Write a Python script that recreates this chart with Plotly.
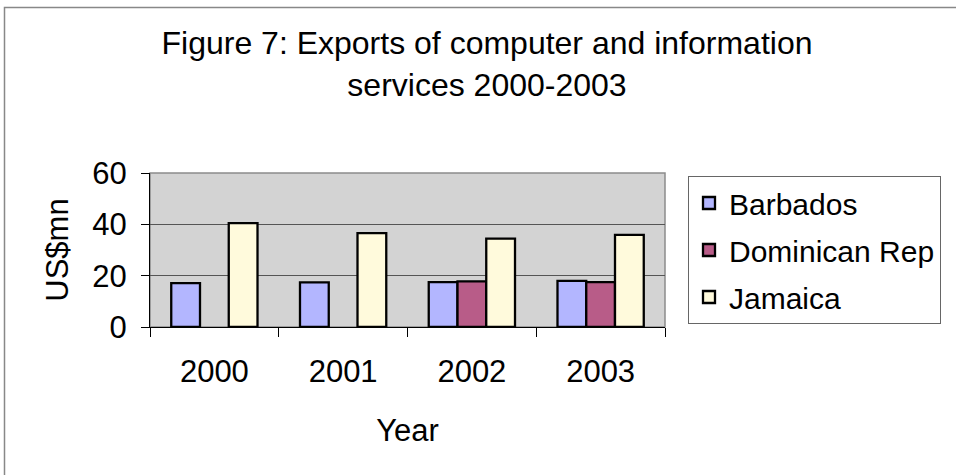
import plotly.graph_objects as go

years = ["2000", "2001", "2002", "2003"]
barbados = [17.1, 17.4, 17.5, 18.0]
dominican = [None, None, 17.8, 17.5]
jamaica = [40.5, 36.6, 34.4, 35.9]

series = [
    ("Barbados", barbados, "#b3b6ff"),
    ("Dominican Rep", dominican, "#b85c88"),
    ("Jamaica", jamaica, "#fffadc"),
]

FONT = "Liberation Sans, Arial, sans-serif"

fig = go.Figure()
for i, (name, vals, col) in enumerate(series):
    fig.add_trace(go.Bar(
        x=years, y=vals, name=name, legendgroup=str(i),
        marker=dict(color=col, line=dict(color="black", width=2.3)),
    ))

L, R, T, B = 150, 291, 173, 148
W, H = 956, 475
pw, ph = W - L - R, H - T - B

fig.update_layout(
    width=W, height=H,
    margin=dict(l=L, r=R, t=T, b=B),
    paper_bgcolor="white",
    plot_bgcolor="#d3d3d3",
    font=dict(family=FONT, size=30, color="black"),
    barmode="group",
    bargap=0.33,
    bargroupgap=0,
    showlegend=True,
    title=dict(
        text="Figure 7: Exports of computer and information<br>services 2000-2003",
        x=487 / W, xanchor="center",
        y=1 - 54 / H, yanchor="middle",
        font=dict(family=FONT, size=32),
    ),
    legend=dict(
        x=(688 - L) / pw, xanchor="left",
        y=(H - B - 176) / ph, yanchor="top",
        bordercolor="#666666", borderwidth=1,
        bgcolor="white",
        font=dict(family=FONT, size=30),
        traceorder="grouped",
        tracegroupgap=5,
    ),
    xaxis=dict(
        type="category",
        showline=True, linecolor="black", linewidth=1,
        ticks="outside", tickson="boundaries", ticklen=9, tickcolor="black",
        ticklabelstandoff=17,
        showgrid=False,
        title=dict(text="Year", standoff=31, font=dict(size=31)),
        tickfont=dict(size=31),
    ),
    yaxis=dict(
        range=[0, 60], dtick=20,
        showline=True, linecolor="black", linewidth=1,
        ticks="outside", ticklen=8, tickcolor="black",
        ticklabelstandoff=8,
        showgrid=True, gridcolor="#555555", gridwidth=1,
        zeroline=False,
        title=dict(text="US$mn", standoff=14, font=dict(size=31)),
        tickfont=dict(size=31),
    ),
)

# plot-area border (gray) and outer frame
fig.add_shape(type="rect", xref="paper", yref="paper", x0=0, y0=0, x1=1, y1=1,
              line=dict(color="#8c8c8c", width=1.5), layer="below")
fig.add_shape(type="rect", xref="paper", yref="paper",
              x0=(4.5 - L) / pw, y0=(H - B - 7.5) / ph,
              x1=(W + 10 - L) / pw, y1=-(B + 10) / ph,
              line=dict(color="#888888", width=1.5))

fig.write_html("out.html")
